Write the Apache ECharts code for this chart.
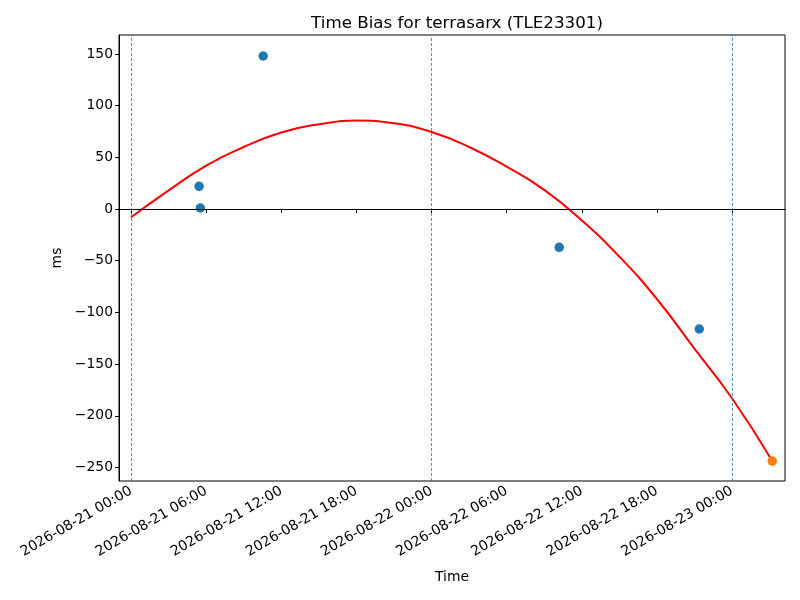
<!DOCTYPE html>
<html>
<head>
<meta charset="utf-8">
<title>Time Bias for terrasarx (TLE23301)</title>
<script src="https://cdn.jsdelivr.net/npm/echarts@6/dist/echarts.min.js"></script>
<style>
    html, body { margin: 0; padding: 0; background: #fff; }
    #chart { width: 800px; height: 600px; }
</style>
</head>
<body>
<div id="chart"></div>
<script>
// measured bias points (time, ms)
var biasTimes = ['2026-08-21 05:26', '2026-08-21 05:32', '2026-08-21 10:33', '2026-08-22 10:12', '2026-08-22 21:23'];
var biasValues = [22, 1, 148, -37, -116];

// latest point (orange)
var lastTimes = ['2026-08-23 03:13'];
var lastValues = [-243.7];

// fitted curve, every 3 hours
var fitTimes = ['2026-08-21 00:00', '2026-08-21 03:00', '2026-08-21 06:00', '2026-08-21 09:00', '2026-08-21 12:00',
    '2026-08-21 15:00', '2026-08-21 18:00', '2026-08-21 21:00', '2026-08-22 00:00', '2026-08-22 03:00',
    '2026-08-22 06:00', '2026-08-22 09:00', '2026-08-22 12:00', '2026-08-22 15:00', '2026-08-22 18:00',
    '2026-08-22 21:00', '2026-08-23 00:00', '2026-08-23 03:13'];
var fitValues = [-8, 18, 42, 60, 74, 82, 85.5, 83, 74.5, 60, 41, 18.5, -11, -46, -87, -135, -183, -243.7];

// day boundaries (dashed lines)
var dayMarks = ['2026-08-21 00:00', '2026-08-22 00:00', '2026-08-23 00:00'];

// tick labels
var xTicks = ['2026-08-21 00:00', '2026-08-21 06:00', '2026-08-21 12:00', '2026-08-21 18:00', '2026-08-22 00:00',
    '2026-08-22 06:00', '2026-08-22 12:00', '2026-08-22 18:00', '2026-08-23 00:00'];
var yTicks = [-250, -200, -150, -100, -50, 0, 50, 100, 150];

var xMin = '2026-08-20 23:02';
var xMax = '2026-08-23 04:14';
var yMin = -263;
var yMax = 168.3;

function toTime(s) {
    var p = s.split(/[- :]/);
    return new Date(+p[0], +p[1] - 1, +p[2], +p[3], +p[4]).getTime();
}
function pad(n) {
    return (n < 10 ? '0' : '') + n;
}
function fmtTime(v) {
    var d = new Date(v);
    return d.getFullYear() + '-' + pad(d.getMonth() + 1) + '-' + pad(d.getDate()) + ' ' +
        pad(d.getHours()) + ':' + pad(d.getMinutes());
}
function zip(ts, vs) {
    return ts.map(function (t, i) { return [toTime(t), vs[i]]; });
}

var font = 'DejaVu Sans';
var xTickValues = xTicks.map(toTime);

var option = {
    animation: false,
    textStyle: { fontFamily: font },
    title: {
        text: 'Time Bias for terrasarx (TLE23301)',
        left: 452,
        top: 10,
        textAlign: 'center',
        textStyle: { fontFamily: font, fontSize: 16.7, fontWeight: 'normal', color: '#000' }
    },
    grid: {
        left: 119,
        right: 15,
        top: 35,
        bottom: 119,
        show: true,
        borderColor: '#000',
        borderWidth: 1,
        backgroundColor: 'transparent'
    },
    xAxis: {
        type: 'value',
        min: toTime(xMin),
        max: toTime(xMax),
        name: 'Time',
        nameLocation: 'middle',
        nameGap: 89,
        nameTextStyle: { fontFamily: font, fontSize: 13.9, color: '#000' },
        axisLine: { show: true, lineStyle: { color: '#000', width: 1 } },
        axisTick: { show: true, inside: false, length: 4, lineStyle: { color: '#000' }, customValues: xTickValues },
        axisLabel: {
            customValues: xTickValues,
            rotate: 30,
            margin: 9,
            fontFamily: font,
            fontSize: 14,
            color: '#000',
            formatter: function (v) { return fmtTime(v); }
        },
        splitLine: { show: false }
    },
    yAxis: {
        type: 'value',
        min: yMin,
        max: yMax,
        name: 'ms',
        nameLocation: 'middle',
        nameGap: 54,
        nameTextStyle: { fontFamily: font, fontSize: 13.9, color: '#000' },
        axisLine: { show: true, lineStyle: { color: '#000', width: 1 } },
        axisTick: { show: true, inside: false, length: 4, lineStyle: { color: '#000' }, customValues: yTicks },
        axisLabel: {
            customValues: yTicks,
            margin: 6,
            fontFamily: font,
            fontSize: 13.9,
            color: '#000',
            formatter: function (v) { return v < 0 ? '\u2212' + Math.abs(v) : String(v); }
        },
        splitLine: { show: false }
    },
    series: [
        {
            // reference lines
            type: 'line',
            data: [],
            z: 1,
            markLine: {
                silent: true,
                symbol: 'none',
                label: { show: false },
                animation: false,
                data: dayMarks.map(function (d) {
                    return { xAxis: toTime(d), lineStyle: { color: '#1f77b4', width: 0.8, type: [3, 2] } };
                }).concat([{ yAxis: 0, lineStyle: { color: '#000', width: 0.8, type: 'solid' } }])
            }
        },
        {
            name: 'bias',
            type: 'scatter',
            data: zip(biasTimes, biasValues),
            symbolSize: 9.5,
            itemStyle: { color: '#1f77b4', opacity: 1 },
            z: 3
        },
        {
            name: 'fit',
            type: 'line',
            data: zip(fitTimes, fitValues),
            smooth: true,
            showSymbol: false,
            symbol: 'none',
            lineStyle: { color: '#ff0000', width: 2 },
            z: 4
        },
        {
            name: 'latest',
            type: 'scatter',
            data: zip(lastTimes, lastValues),
            symbolSize: 9.5,
            itemStyle: { color: '#ff7f0e', opacity: 1 },
            z: 5
        }
    ]
};

var chart = echarts.init(document.getElementById('chart'), null, { renderer: 'canvas' });
chart.setOption(option);
</script>
</body>
</html>
